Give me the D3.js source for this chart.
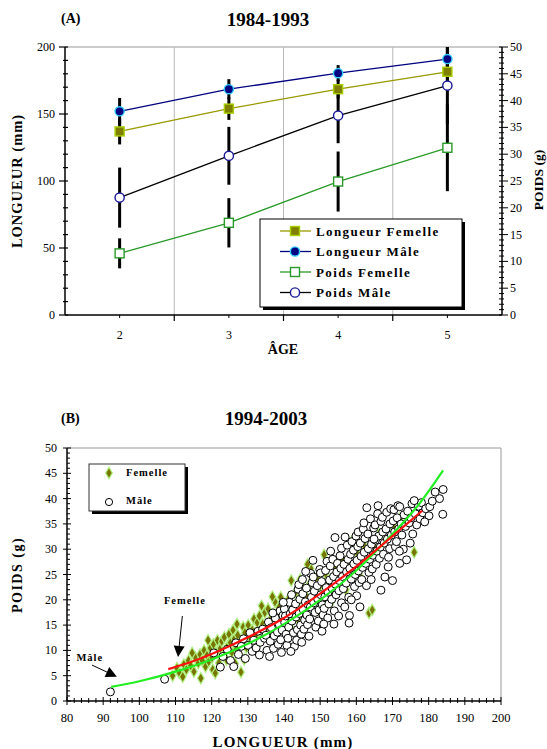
<!DOCTYPE html>
<html><head><meta charset="utf-8">
<script src="https://cdn.jsdelivr.net/npm/d3@7"></script>
<style>
body{margin:0;background:#fff;}
svg{display:block;font-family:"Liberation Serif","Times New Roman",serif;}
</style></head>
<body>
<svg id="c" width="547" height="749"></svg>
<script>
// ---------- DATA (A) 1984-1993 ----------
const ages = ["2","3","4","5"];
const longueurFemelle = [137, 154, 168.5, 181.5];
const longueurFemelleSD = [9.7, 8.4, 7, 8];
const longueurMale = [152, 168.5, 180.5, 191];
const longueurMaleSD = [10, 7.5, 6, 9];
const poidsFemelle = [11.5, 17.2, 24.9, 31.2];
const poidsFemelleSD = [2.8, 4.6, 5.6, 8.1];
const poidsMale = [21.9, 29.7, 37.2, 42.8];
const poidsMaleSD = [5.6, 5.4, 5.15, 7.2];
const leftTicksA = [0, 50, 100, 150, 200];
const rightTicksA = [0,5,10,15,20,25,30,35,40,45,50];

// ---------- DATA (B) 1994-2003 ----------
const xTicksB = [80,90,100,110,120,130,140,150,160,170,180,190,200];
const yTicksB = [0,5,10,15,20,25,30,35,40,45,50];
const femellePts = [
[109.2,5.0],[110.4,6.5],[111.1,5.5],[112.3,7.2],[113.0,6.2],[113.6,8.0],[114.2,7.0],[115.1,5.8],[115.5,8.6],[116.3,7.5],[116.8,9.2],[117.0,4.5],[117.4,8.0],[117.9,10.0],[118.3,6.8],[118.7,9.0],[119.2,7.8],[119.6,10.5],[120.1,8.6],[120.5,11.2],[120.3,6.2],[121.2,9.6],[121.6,12.0],[122.0,7.5],[122.4,10.4],[122.8,11.8],[123.3,9.0],[123.5,12.6],[124.1,8.2],[124.4,10.8],[124.8,13.2],[125.2,11.5],[125.6,9.6],[125.9,14.0],[126.3,12.3],[126.5,7.4],[126.8,10.3],[127.2,13.0],[127.6,11.2],[128.1,5.7],[128.4,12.0],[128.7,14.6],[129.2,13.5],[129.6,10.6],[130.1,15.0],[130.5,12.8],[131.2,14.0],[131.7,16.2],[132.3,13.2],[132.6,15.5],[133.2,16.8],[133.5,12.0],[134.1,15.2],[134.7,17.5],[135.2,14.8],[135.6,18.2],[136.2,16.0],[136.5,13.0],[137.1,17.2],[137.5,19.6],[138.2,15.8],[138.6,18.5],[139.1,20.5],[139.5,17.0],[140.2,19.0],[140.6,16.3],[141.3,20.2],[142.0,23.8],[142.4,18.4],[143.2,21.5],[144.1,19.8],[144.5,24.0],[145.3,22.5],[146.2,20.6],[147.0,23.0],[147.4,26.2],[148.2,21.2],[149.1,24.5],[150.0,22.8],[151.1,28.9],[151.5,25.2],[152.3,23.6],[153.0,19.5],[154.2,26.5],[155.0,24.0],[156.2,28.0],[157.1,22.0],[158.3,26.8],[160.0,29.5],[161.2,24.4],[162.0,31.0],[163.5,17.4],[164.4,18.0],[165.1,30.2],[166.3,33.0],[168.0,31.6],[170.2,34.5],[172.0,36.0],[176.0,29.4],[174.1,35.0],[112.0,4.8],[114.6,9.5],[119.0,12.0],[121.0,5.5],[127.0,15.2],[129.0,8.2],[133.8,18.8],[136.8,20.6],[141.8,14.6],[143.8,16.2],[146.5,27.0],[149.5,18.0],[153.6,21.3],[159.0,31.8]
];
const malePts = [
[92,1.8],[107,4.3],
[120.6,9.5],[122.4,6.7],[123.1,8.8],[124.3,10.2],[125.2,8.0],[126.1,6.8],[126.7,11.5],[127.4,9.2],[128.2,10.8],[128.8,12.3],[129.3,8.4],[130.1,11.0],[130.6,13.5],[131.2,9.8],[131.7,12.0],
[132.3,10.5],[132.8,13.8],[133.4,11.6],[133.2,9.1],[134.1,14.2],[134.6,12.4],[135.3,10.0],[135.0,13.0],[135.7,15.6],[136.2,11.8],[136.5,14.5],[136.0,8.8],[137.3,12.9],[137.6,16.4],[137.1,10.4],[138.2,13.6],[138.7,15.1],[138.4,11.2],[138.9,17.8],[139.5,14.0],[139.1,12.1],[139.7,16.9],[139.3,9.6],[140.2,15.5],[140.6,13.2],[140.1,18.2],[140.8,11.0],[140.4,16.8],
[141.3,14.6],[141.7,17.2],[141.1,12.4],[141.5,19.5],[142.2,15.8],[142.6,13.5],[142.4,18.0],[142.9,10.8],[142.1,21.0],[143.3,16.6],[143.7,14.1],[143.2,19.2],[143.5,12.0],[143.9,22.1],[144.2,17.3],[144.6,15.0],[144.4,20.1],[144.8,13.2],[144.1,23.0],[145.3,18.1],[145.7,16.0],[145.2,21.2],[145.5,14.2],[145.9,19.6],[145.1,24.0],[146.3,17.0],[146.7,19.0],[146.2,22.3],[146.5,15.1],[146.9,12.8],[147.3,18.6],[147.6,20.5],[147.1,16.2],[147.8,23.4],[147.4,25.2],[148.2,19.4],[148.6,17.5],[148.4,21.7],[148.8,14.6],[148.1,24.5],[149.3,20.2],[149.7,18.0],[149.2,22.8],[149.5,15.8],[149.9,26.0],[150.2,21.0],[150.6,19.0],[150.4,23.6],[150.8,17.0],[150.1,25.3],[150.5,13.8],
[151.3,20.6],[151.7,22.4],[151.1,18.3],[151.5,25.8],[151.9,27.6],[152.2,21.5],[152.6,23.9],[152.4,19.2],[152.8,26.7],[152.1,16.4],[153.3,22.3],[153.7,24.6],[153.2,20.1],[153.5,28.0],[153.9,17.8],[154.2,23.1],[154.6,25.5],[154.4,21.0],[154.1,32.3],[153.8,15.2],[154.8,27.2],[155.3,23.8],[155.7,26.2],[155.2,21.8],[155.5,28.7],[155.9,19.4],[156.2,24.6],[156.6,27.0],[155.9,30.2],[156.4,22.2],[156.8,18.6],[157.3,25.5],[157.7,28.0],[157.2,23.3],[157.5,30.8],[157.9,20.5],[158.2,26.2],[158.6,24.1],[158.4,29.0],[158.1,16.9],[158.0,15.4],[158.8,31.5],[159.3,27.1],[159.7,25.0],[159.2,29.8],[159.5,22.6],[159.9,32.6],[160.2,27.8],[160.6,25.7],[160.4,30.5],[160.8,23.4],[160.1,20.8],[160.5,33.4],
[161.3,28.6],[161.7,26.4],[161.1,31.2],[161.5,24.0],[161.9,34.0],[162.2,29.4],[162.6,27.2],[162.4,32.1],[162.8,22.8],[162.1,35.2],[163.3,30.1],[163.7,28.0],[163.2,33.0],[163.5,25.4],[163.9,36.0],[164.2,31.0],[164.6,28.8],[164.4,26.1],[164.8,34.2],[164.1,24.0],[165.3,31.8],[165.7,29.6],[165.2,34.8],[165.5,27.0],[165.9,37.0],[166.2,32.6],[166.6,30.4],[166.4,28.2],[166.8,35.5],[166.8,21.9],[167.3,33.4],[167.7,31.2],[167.2,36.3],[167.5,29.0],[167.9,24.5],[168.2,34.0],[168.6,32.0],[168.4,37.3],[168.8,26.5],[169.3,35.0],[169.7,32.8],[169.2,30.1],[169.5,38.0],[170.2,35.6],[170.6,33.4],[170.0,23.8],[170.4,37.8],[170.8,30.5],
[171.3,36.2],[171.7,34.0],[171.1,31.5],[171.5,38.6],[172.0,38.4],[172.4,35.0],[172.0,27.2],[172.6,32.8],[173.2,36.8],[173.6,34.5],[173.0,30.0],[174.2,37.5],[173.9,27.9],[174.6,35.2],[175.4,39.0],[175.1,36.2],[175.6,33.0],[176.3,37.0],[176.7,34.8],[177.2,38.5],[177.6,36.0],[178.0,39.2],[178.4,37.2],[179.2,38.0],[180.3,38.4],[180.1,36.6],[181.0,39.5],[181.8,41.3],[183.0,40.0],[184.0,41.8],[183.9,36.9],
[136.9,17.4],[139.8,19.5],[141.9,9.8],[144.9,11.6],[146.0,25.6],[148.0,27.8],[151.0,15.2],[152.9,29.6],[155.1,16.8],[156.9,32.4],[158.6,20.0],[161.0,18.6],[162.9,38.2],[164.9,32.0],[166.0,38.6],[168.9,28.4],[171.9,29.6],[174.9,31.2],[176.0,39.6],[178.9,35.4]
];
// fitted curves (longueur, poids)
const maleFit = [[92.2,2.8],[100,3.9],[110,5.8],[120,8.2],[130,11.3],[140,15.2],[150,20.0],[160,25.8],[170,33.0],[177,38.6],[184,45.6]];
const femelleFit = [[108,6.3],[115,7.9],[120,9.3],[130,12.6],[140,16.4],[150,21.2],[160,26.6],[170,32.6],[178.2,37.6]];

// ---------- drawing ----------
const svg = d3.select("#c");

function txt(g, x, y, s, o = {}) {
  const t = g.append("text").attr("x", x).attr("y", y).text(s)
    .attr("font-size", o.size || 12).attr("font-weight", o.bold ? "bold" : "normal")
    .attr("text-anchor", o.anchor || "start").attr("fill", "#000");
  if (o.ls) t.attr("letter-spacing", o.ls);
  if (o.rot) t.attr("transform", `rotate(${o.rot},${x},${y})`);
  return t;
}

// ===== Chart A =====
const A = {l: 65, r: 502, t: 47, b: 315};
const xA = d3.scaleBand().domain(ages).range([A.l, A.r]);
const yL = d3.scaleLinear().domain([0, 200]).range([A.b, A.t]);
const yR = d3.scaleLinear().domain([0, 50]).range([A.b, A.t]);
const cx = a => xA(a) + xA.bandwidth() / 2;

const gA = svg.append("g");
gA.append("line").attr("x1", A.l).attr("x2", A.r).attr("y1", A.t).attr("y2", A.t).attr("stroke", "#999").attr("stroke-width", 1);
ages.slice(1).forEach(a => {
  gA.append("line").attr("x1", xA(a)).attr("x2", xA(a)).attr("y1", A.t).attr("y2", A.b)
    .attr("stroke", "#b8b8b8").attr("stroke-width", 1);
});

svg.append("clipPath").attr("id", "clipA").append("rect")
  .attr("x", A.l).attr("y", A.t).attr("width", A.r - A.l).attr("height", A.b - A.t);

const series = [
  {name: "Longueur Femelle", v: longueurFemelle, sd: longueurFemelleSD, y: yL, line: "#999900", shape: "square", fill: "#808000", stroke: "#a8d000"},
  {name: "Longueur Mâle", v: longueurMale, sd: longueurMaleSD, y: yL, line: "#000080", shape: "circle", fill: "#000080", stroke: "#33ccff"},
  {name: "Poids Femelle", v: poidsFemelle, sd: poidsFemelleSD, y: yR, line: "#2a9a2a", shape: "square", fill: "#ffffff", stroke: "#2a9a2a"},
  {name: "Poids Mâle", v: poidsMale, sd: poidsMaleSD, y: yR, line: "#000000", shape: "circle", fill: "#ffffff", stroke: "#1a1a99"}
];

const eb = gA.append("g").attr("clip-path", "url(#clipA)");
series.forEach(s => {
  eb.selectAll(null).data(ages).join("line")
    .attr("x1", cx).attr("x2", cx)
    .attr("y1", (a, i) => s.y(s.v[i] + s.sd[i])).attr("y2", (a, i) => s.y(s.v[i] - s.sd[i]))
    .attr("stroke", "#000").attr("stroke-width", 3);
});
series.forEach(s => {
  gA.append("path").datum(ages)
    .attr("d", d3.line().x(cx).y((a, i) => s.y(s.v[i])))
    .attr("fill", "none").attr("stroke", s.line).attr("stroke-width", 1.3);
});
function marker(g, shape, x, y, fill, stroke) {
  if (shape === "square") {
    g.append("rect").attr("x", x - 4.5).attr("y", y - 4.5).attr("width", 9).attr("height", 9)
      .attr("fill", fill).attr("stroke", stroke).attr("stroke-width", 1.4);
  } else {
    g.append("circle").attr("cx", x).attr("cy", y).attr("r", 4.6)
      .attr("fill", fill).attr("stroke", stroke).attr("stroke-width", 1.4);
  }
}
series.forEach(s => {
  ages.forEach((a, i) => marker(gA, s.shape, cx(a), s.y(s.v[i]), s.fill, s.stroke));
});

// left axis A
const axL = gA.append("g").attr("transform", `translate(${A.l},0)`);
axL.append("line").attr("x1", 0).attr("x2", 0).attr("y1", A.t).attr("y2", A.b).attr("stroke", "#000").attr("stroke-width", 1.5);
axL.selectAll(null).data(d3.range(0, 201, 10)).join("line")
  .attr("x1", d => d % 50 === 0 ? -6 : -2).attr("x2", 3).attr("y1", yL).attr("y2", yL)
  .attr("stroke", "#000").attr("stroke-width", 1.2);
axL.selectAll(null).data(leftTicksA).join("text")
  .attr("x", -10).attr("y", d => yL(d) + 4).attr("text-anchor", "end")
  .attr("font-size", 12).text(d => d);
// right axis A
const axR = gA.append("g").attr("transform", `translate(${A.r},0)`);
axR.append("line").attr("y1", A.t).attr("y2", A.b).attr("stroke", "#000").attr("stroke-width", 1.5);
axR.selectAll(null).data(d3.range(0, 51, 1)).join("line")
  .attr("x1", -3).attr("x2", d => d % 5 === 0 ? 6 : 2).attr("y1", yR).attr("y2", yR)
  .attr("stroke", "#000").attr("stroke-width", 1);
axR.selectAll(null).data(rightTicksA).join("text")
  .attr("x", 8).attr("y", d => yR(d) + 4).attr("font-size", 12).text(d => d);
// bottom axis A
const axB = gA.append("g");
axB.append("line").attr("x1", A.l).attr("x2", A.r).attr("y1", A.b).attr("y2", A.b).attr("stroke", "#000").attr("stroke-width", 1.5);
ages.slice(1).forEach(a => axB.append("line").attr("x1", xA(a)).attr("x2", xA(a)).attr("y1", A.b).attr("y2", A.b + 6).attr("stroke", "#000").attr("stroke-width", 1.2));
ages.forEach(a => axB.append("line").attr("x1", cx(a)).attr("x2", cx(a)).attr("y1", A.b).attr("y2", A.b + 3).attr("stroke", "#000").attr("stroke-width", 1));
ages.forEach(a => txt(axB, cx(a), 339, a, {size: 12, anchor: "middle"}));

txt(gA, 283, 354, "ÂGE", {size: 14, bold: true, anchor: "middle"});
txt(gA, 22, 181, "LONGUEUR (mm)", {size: 14.5, bold: true, anchor: "middle", rot: -90, ls: 1});
txt(gA, 543, 180, "POIDS (g)", {size: 13.5, bold: true, anchor: "middle", rot: -90});
txt(gA, 61, 23, "(A)", {size: 14, bold: true});
txt(gA, 268, 26, "1984-1993", {size: 19, bold: true, anchor: "middle"});

// legend A
const LA = {x: 260, y: 219, w: 202, h: 88};
gA.append("rect").attr("x", LA.x + 3).attr("y", LA.y + 3).attr("width", LA.w).attr("height", LA.h).attr("fill", "#000");
gA.append("rect").attr("x", LA.x).attr("y", LA.y).attr("width", LA.w).attr("height", LA.h).attr("fill", "#fff").attr("stroke", "#000").attr("stroke-width", 1);
series.forEach((s, i) => {
  const yy = LA.y + 12 + i * 20.5;
  gA.append("line").attr("x1", 280).attr("x2", 311).attr("y1", yy).attr("y2", yy).attr("stroke", s.line).attr("stroke-width", 1.3);
  marker(gA, s.shape, 295, yy, s.fill, s.stroke);
  txt(gA, 316, yy + 4.5, s.name, {size: 13, bold: true, ls: 1.4});
});

// ===== Chart B =====
const B = {l: 67, r: 501, t: 448, b: 701};
const xB = d3.scaleLinear().domain([80, 200]).range([B.l, B.r]);
const yB = d3.scaleLinear().domain([0, 50]).range([B.b, B.t]);
const gB = svg.append("g");

gB.append("line").attr("x1", B.l).attr("x2", B.r).attr("y1", B.t).attr("y2", B.t).attr("stroke", "#999");
gB.append("line").attr("x1", B.r).attr("x2", B.r).attr("y1", B.t).attr("y2", B.b).attr("stroke", "#999");

const diamond = d3.symbol().type(d3.symbolDiamond).size(38);
gB.append("g").selectAll("path").data(femellePts).join("path")
  .attr("d", diamond)
  .attr("transform", d => `translate(${xB(d[0])},${yB(d[1])})`)
  .attr("fill", "#767600").attr("stroke", "#b0f080").attr("stroke-width", 1.2);
gB.append("g").selectAll("circle").data(malePts).join("circle")
  .attr("cx", d => xB(d[0])).attr("cy", d => yB(d[1])).attr("r", 4)
  .attr("fill", "#fff").attr("stroke", "#000").attr("stroke-width", 1);
const lineB = d3.line().x(d => xB(d[0])).y(d => yB(d[1])).curve(d3.curveMonotoneX);
gB.append("path").datum(maleFit).attr("d", lineB).attr("fill", "none").attr("stroke", "#22ee22").attr("stroke-width", 2.2);
gB.append("path").datum(femelleFit).attr("d", lineB).attr("fill", "none").attr("stroke", "#ff1010").attr("stroke-width", 2.2);

const ayB = gB.append("g").attr("transform", `translate(${B.l},0)`);
ayB.append("line").attr("y1", B.t).attr("y2", B.b).attr("stroke", "#000").attr("stroke-width", 1.5);
ayB.selectAll(null).data(d3.range(0, 51, 1)).join("line")
  .attr("x1", d => d % 5 === 0 ? -4 : 0).attr("x2", d => d % 5 === 0 ? 4 : 3).attr("y1", yB).attr("y2", yB)
  .attr("stroke", "#000").attr("stroke-width", 1);
ayB.selectAll(null).data(yTicksB).join("text")
  .attr("x", -10).attr("y", d => yB(d) + 4).attr("text-anchor", "end").attr("font-size", 12).text(d => d);
const axXB = gB.append("g").attr("transform", `translate(0,${B.b})`);
axXB.append("line").attr("x1", B.l).attr("x2", B.r).attr("stroke", "#000").attr("stroke-width", 1.5);
axXB.selectAll(null).data(d3.range(80, 201, 2)).join("line")
  .attr("x1", xB).attr("x2", xB).attr("y1", d => d % 10 === 0 ? -4 : -3).attr("y2", d => d % 10 === 0 ? 4 : 2)
  .attr("stroke", "#000").attr("stroke-width", 1);
axXB.selectAll(null).data(xTicksB).join("text")
  .attr("x", xB).attr("y", 21).attr("text-anchor", "middle").attr("font-size", 12.5).text(d => d);

txt(gB, 283, 747, "LONGUEUR (mm)", {size: 15, bold: true, anchor: "middle", ls: 1.2});
txt(gB, 22, 575, "POIDS (g)", {size: 14, bold: true, anchor: "middle", rot: -90, ls: 1.5});
txt(gB, 61, 423, "(B)", {size: 14, bold: true});
txt(gB, 266, 425, "1994-2003", {size: 19, bold: true, anchor: "middle"});

const LB = {x: 89, y: 464, w: 96, h: 47};
gB.append("rect").attr("x", LB.x + 3).attr("y", LB.y + 3).attr("width", LB.w).attr("height", LB.h).attr("fill", "#000");
gB.append("rect").attr("x", LB.x).attr("y", LB.y).attr("width", LB.w).attr("height", LB.h).attr("fill", "#fff").attr("stroke", "#333").attr("stroke-width", 1);
gB.append("path").attr("d", diamond).attr("transform", "translate(109,473)").attr("fill", "#767600").attr("stroke", "#b0f080").attr("stroke-width", 1.2);
gB.append("circle").attr("cx", 109).attr("cy", 502).attr("r", 3.6).attr("fill", "#fff").attr("stroke", "#000");
txt(gB, 126, 476, "Femelle", {size: 10.5, bold: true, ls: 1});
txt(gB, 126, 504, "Mâle", {size: 10.5, bold: true, ls: 1});

const annots = [
  {label: "Femelle", tx: 112.6, ty: 20.0, from: [111.9, 16.8], to: [110.7, 8.7]},
  {label: "Mâle", tx: 86.3, ty: 8.6, from: [86.9, 7.1], to: [93.8, 4.8]}
];
annots.forEach(a => {
  txt(gB, xB(a.tx), yB(a.ty) + 4, a.label, {size: 10.5, bold: true, anchor: "middle", ls: 1});
  const x1 = xB(a.from[0]), y1 = yB(a.from[1]), x2 = xB(a.to[0]), y2 = yB(a.to[1]);
  const ang = Math.atan2(y2 - y1, x2 - x1);
  const L = 11, W = 5.5;
  const bx = x2 - L * Math.cos(ang), by = y2 - L * Math.sin(ang);
  gB.append("line").attr("x1", x1).attr("y1", y1).attr("x2", bx).attr("y2", by).attr("stroke", "#000").attr("stroke-width", 1);
  gB.append("path").attr("d", `M${x2},${y2}L${bx + W * Math.sin(ang)},${by - W * Math.cos(ang)}L${bx - W * Math.sin(ang)},${by + W * Math.cos(ang)}Z`).attr("fill", "#000");
});
</script>
</body></html>
